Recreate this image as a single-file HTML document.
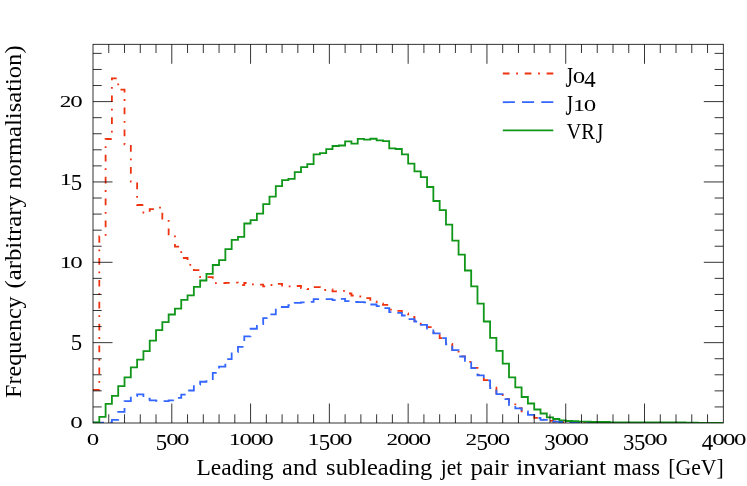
<!DOCTYPE html>
<html><head><meta charset="utf-8"><title>plot</title><style>html,body{margin:0;padding:0;background:#fff;}svg{display:block;}text{font-family:"Liberation Serif";fill:#000;}</style>
</head><body>
<svg width="747" height="486" viewBox="0 0 747 486" style="will-change:transform">
<rect x="0" y="0" width="747" height="486" fill="#ffffff"/>
<defs><clipPath id="fc"><rect x="93.00" y="44.30" width="630.30" height="378.70"/></clipPath></defs>
<g fill="none" stroke-width="1.80" stroke-linejoin="miter" stroke-linecap="butt" clip-path="url(#fc)">
<path d="M93.00 389.80 L99.30 389.80 L99.30 236.20 L105.61 236.20 L105.61 139.00 L111.91 139.00 L111.91 78.30 L118.21 78.30 L118.21 89.70 L124.52 89.70 L124.52 144.40 L130.82 144.40 L130.82 181.60 L137.12 181.60 L137.12 205.00 L143.42 205.00 L143.42 212.70 L149.73 212.70 L149.73 209.10 L156.03 209.10 L156.03 207.60 L162.33 207.60 L162.33 218.70 L168.64 218.70 L168.64 234.30 L174.94 234.30 L174.94 246.60 L181.24 246.60 L181.24 258.00 L187.55 258.00 L187.55 264.90 L193.85 264.90 L193.85 270.10 L200.15 270.10 L200.15 277.20 L206.45 277.20 L206.45 277.20 L212.76 277.20 L212.76 283.10 L219.06 283.10 L219.06 283.20 L225.36 283.20 L225.36 282.80 L231.67 282.80 L231.67 282.60 L237.97 282.60 L237.97 285.20 L244.27 285.20 L244.27 283.00 L250.57 283.00 L250.57 284.30 L256.88 284.30 L256.88 284.70 L263.18 284.70 L263.18 286.30 L269.48 286.30 L269.48 285.00 L275.79 285.00 L275.79 283.80 L282.09 283.80 L282.09 285.50 L288.39 285.50 L288.39 286.40 L294.70 286.40 L294.70 286.00 L301.00 286.00 L301.00 288.00 L307.30 288.00 L307.30 289.00 L313.61 289.00 L313.61 287.10 L319.91 287.10 L319.91 290.00 L326.21 290.00 L326.21 289.40 L332.51 289.40 L332.51 291.40 L338.82 291.40 L338.82 290.90 L345.12 290.90 L345.12 293.50 L351.42 293.50 L351.42 295.50 L357.73 295.50 L357.73 296.50 L364.03 296.50 L364.03 298.10 L370.33 298.10 L370.33 301.50 L376.63 301.50 L376.63 303.40 L382.94 303.40 L382.94 304.80 L389.24 304.80 L389.24 309.70 L395.54 309.70 L395.54 310.80 L401.85 310.80 L401.85 313.50 L408.15 313.50 L408.15 316.80 L414.45 316.80 L414.45 321.00 L420.76 321.00 L420.76 324.00 L427.06 324.00 L427.06 327.10 L433.36 327.10 L433.36 332.50 L439.67 332.50 L439.67 338.20 L445.97 338.20 L445.97 344.00 L452.27 344.00 L452.27 350.00 L458.57 350.00 L458.57 356.30 L464.88 356.30 L464.88 361.80 L471.18 361.80 L471.18 367.80 L477.48 367.80 L477.48 375.00 L483.79 375.00 L483.79 380.05 L490.09 380.05 L490.09 387.70 L496.39 387.70 L496.39 394.00 L502.69 394.00 L502.69 399.00 L509.00 399.00 L509.00 404.30 L515.30 404.30 L515.30 408.20 L521.60 408.20 L521.60 411.30 L527.91 411.30 L527.91 414.60 L534.21 414.60 L534.21 417.90 L540.51 417.90 L540.51 419.70 L546.82 419.70 L546.82 420.90 L553.12 420.90 L553.12 421.50 L559.42 421.50 L559.42 422.00 L565.73 422.00 L565.73 422.30 L572.03 422.30 L572.03 422.50 L578.33 422.50 L578.33 422.60 L584.63 422.60 L584.63 423.00 L590.94 423.00 L590.94 423.00 L597.24 423.00 L597.24 423.00 L603.54 423.00 L603.54 423.00 L609.85 423.00 L609.85 423.00 L616.15 423.00 L616.15 423.00 L622.45 423.00 L622.45 423.00 L628.75 423.00 L628.75 423.00 L635.06 423.00 L635.06 423.00 L641.36 423.00 L641.36 423.00 L647.66 423.00 L647.66 423.00 L653.97 423.00 L653.97 423.00 L660.27 423.00 L660.27 423.00 L666.57 423.00 L666.57 423.00 L672.88 423.00 L672.88 423.00 L679.18 423.00 L679.18 423.00 L685.48 423.00 L685.48 423.00 L691.78 423.00 L691.78 423.00 L698.09 423.00 L698.09 423.00 L704.39 423.00 L704.39 423.00 L710.69 423.00 L710.69 423.00 L717.00 423.00 L717.00 423.00 L723.30 423.00" stroke="#EE3311" stroke-dasharray="6.7 6.7 1.8 6.7"/>
<path d="M93.00 422.70 L99.30 422.70 L99.30 422.70 L105.61 422.70 L105.61 422.50 L111.91 422.50 L111.91 419.80 L118.21 419.80 L118.21 411.80 L124.52 411.80 L124.52 401.10 L130.82 401.10 L130.82 396.20 L137.12 396.20 L137.12 394.40 L143.42 394.40 L143.42 398.60 L149.73 398.60 L149.73 400.40 L156.03 400.40 L156.03 400.80 L162.33 400.80 L162.33 401.10 L168.64 401.10 L168.64 400.40 L174.94 400.40 L174.94 397.80 L181.24 397.80 L181.24 394.60 L187.55 394.60 L187.55 390.50 L193.85 390.50 L193.85 384.70 L200.15 384.70 L200.15 381.75 L206.45 381.75 L206.45 379.00 L212.76 379.00 L212.76 372.80 L219.06 372.80 L219.06 366.60 L225.36 366.60 L225.36 359.10 L231.67 359.10 L231.67 352.20 L237.97 352.20 L237.97 346.80 L244.27 346.80 L244.27 336.40 L250.57 336.40 L250.57 328.75 L256.88 328.75 L256.88 324.20 L263.18 324.20 L263.18 318.05 L269.48 318.05 L269.48 314.30 L275.79 314.30 L275.79 307.20 L282.09 307.20 L282.09 307.00 L288.39 307.00 L288.39 305.10 L294.70 305.10 L294.70 302.80 L301.00 302.80 L301.00 302.30 L307.30 302.30 L307.30 301.90 L313.61 301.90 L313.61 299.20 L319.91 299.20 L319.91 299.20 L326.21 299.20 L326.21 299.20 L332.51 299.20 L332.51 300.20 L338.82 300.20 L338.82 298.80 L345.12 298.80 L345.12 301.20 L351.42 301.20 L351.42 302.00 L357.73 302.00 L357.73 302.10 L364.03 302.10 L364.03 302.30 L370.33 302.30 L370.33 304.50 L376.63 304.50 L376.63 306.10 L382.94 306.10 L382.94 308.10 L389.24 308.10 L389.24 312.10 L395.54 312.10 L395.54 312.80 L401.85 312.80 L401.85 315.50 L408.15 315.50 L408.15 319.10 L414.45 319.10 L414.45 321.50 L420.76 321.50 L420.76 324.80 L427.06 324.80 L427.06 328.50 L433.36 328.50 L433.36 333.30 L439.67 333.30 L439.67 338.20 L445.97 338.20 L445.97 344.30 L452.27 344.30 L452.27 350.10 L458.57 350.10 L458.57 356.50 L464.88 356.50 L464.88 362.30 L471.18 362.30 L471.18 368.10 L477.48 368.10 L477.48 375.40 L483.79 375.40 L483.79 380.40 L490.09 380.40 L490.09 388.20 L496.39 388.20 L496.39 394.10 L502.69 394.10 L502.69 399.20 L509.00 399.20 L509.00 405.00 L515.30 405.00 L515.30 408.40 L521.60 408.40 L521.60 411.50 L527.91 411.50 L527.91 414.80 L534.21 414.80 L534.21 418.00 L540.51 418.00 L540.51 419.80 L546.82 419.80 L546.82 421.00 L553.12 421.00 L553.12 421.60 L559.42 421.60 L559.42 422.00 L565.73 422.00 L565.73 422.30 L572.03 422.30 L572.03 422.50 L578.33 422.50 L578.33 422.60 L584.63 422.60 L584.63 423.00 L590.94 423.00 L590.94 423.00 L597.24 423.00 L597.24 423.00 L603.54 423.00 L603.54 423.00 L609.85 423.00 L609.85 423.00 L616.15 423.00 L616.15 423.00 L622.45 423.00 L622.45 423.00 L628.75 423.00 L628.75 423.00 L635.06 423.00 L635.06 423.00 L641.36 423.00 L641.36 423.00 L647.66 423.00 L647.66 423.00 L653.97 423.00 L653.97 423.00 L660.27 423.00 L660.27 423.00 L666.57 423.00 L666.57 423.00 L672.88 423.00 L672.88 423.00 L679.18 423.00 L679.18 423.00 L685.48 423.00 L685.48 423.00 L691.78 423.00 L691.78 423.00 L698.09 423.00 L698.09 423.00 L704.39 423.00 L704.39 423.00 L710.69 423.00 L710.69 423.00 L717.00 423.00 L717.00 423.00 L723.30 423.00" stroke="#3366FF" stroke-dasharray="11.0 6.6"/>
<path d="M93.00 422.50 L99.30 422.50 L99.30 416.80 L105.61 416.80 L105.61 403.90 L111.91 403.90 L111.91 395.90 L118.21 395.90 L118.21 386.10 L124.52 386.10 L124.52 377.40 L130.82 377.40 L130.82 367.40 L137.12 367.40 L137.12 359.60 L143.42 359.60 L143.42 351.10 L149.73 351.10 L149.73 340.60 L156.03 340.60 L156.03 330.10 L162.33 330.10 L162.33 322.10 L168.64 322.10 L168.64 314.50 L174.94 314.50 L174.94 308.70 L181.24 308.70 L181.24 299.80 L187.55 299.80 L187.55 295.30 L193.85 295.30 L193.85 286.80 L200.15 286.80 L200.15 280.50 L206.45 280.50 L206.45 273.80 L212.76 273.80 L212.76 265.00 L219.06 265.00 L219.06 260.10 L225.36 260.10 L225.36 249.10 L231.67 249.10 L231.67 239.80 L237.97 239.80 L237.97 236.80 L244.27 236.80 L244.27 223.50 L250.57 223.50 L250.57 220.10 L256.88 220.10 L256.88 213.70 L263.18 213.70 L263.18 204.10 L269.48 204.10 L269.48 196.70 L275.79 196.70 L275.79 186.10 L282.09 186.10 L282.09 180.20 L288.39 180.20 L288.39 178.90 L294.70 178.90 L294.70 172.20 L301.00 172.20 L301.00 167.10 L307.30 167.10 L307.30 164.20 L313.61 164.20 L313.61 154.40 L319.91 154.40 L319.91 153.10 L326.21 153.10 L326.21 149.10 L332.51 149.10 L332.51 146.00 L338.82 146.00 L338.82 145.50 L345.12 145.50 L345.12 141.30 L351.42 141.30 L351.42 143.70 L357.73 143.70 L357.73 138.80 L364.03 138.80 L364.03 139.70 L370.33 139.70 L370.33 138.75 L376.63 138.75 L376.63 140.30 L382.94 140.30 L382.94 141.10 L389.24 141.10 L389.24 148.40 L395.54 148.40 L395.54 149.00 L401.85 149.00 L401.85 154.40 L408.15 154.40 L408.15 163.70 L414.45 163.70 L414.45 171.40 L420.76 171.40 L420.76 177.20 L427.06 177.20 L427.06 187.00 L433.36 187.00 L433.36 201.00 L439.67 201.00 L439.67 210.10 L445.97 210.10 L445.97 224.60 L452.27 224.60 L452.27 240.70 L458.57 240.70 L458.57 254.70 L464.88 254.70 L464.88 270.50 L471.18 270.50 L471.18 286.40 L477.48 286.40 L477.48 303.60 L483.79 303.60 L483.79 321.50 L490.09 321.50 L490.09 337.80 L496.39 337.80 L496.39 350.80 L502.69 350.80 L502.69 363.70 L509.00 363.70 L509.00 377.40 L515.30 377.40 L515.30 387.40 L521.60 387.40 L521.60 397.00 L527.91 397.00 L527.91 403.50 L534.21 403.50 L534.21 409.50 L540.51 409.50 L540.51 413.50 L546.82 413.50 L546.82 417.40 L553.12 417.40 L553.12 419.00 L559.42 419.00 L559.42 420.40 L565.73 420.40 L565.73 421.00 L572.03 421.00 L572.03 421.10 L578.33 421.10 L578.33 421.60 L584.63 421.60 L584.63 421.70 L590.94 421.70 L590.94 422.00 L597.24 422.00 L597.24 422.00 L603.54 422.00 L603.54 422.00 L609.85 422.00 L609.85 422.30 L616.15 422.30 L616.15 422.30 L622.45 422.30 L622.45 422.30 L628.75 422.30 L628.75 422.30 L635.06 422.30 L635.06 422.30 L641.36 422.30 L641.36 422.40 L647.66 422.40 L647.66 422.40 L653.97 422.40 L653.97 422.40 L660.27 422.40 L660.27 422.50 L666.57 422.50 L666.57 422.50 L672.88 422.50 L672.88 422.50 L679.18 422.50 L679.18 422.50 L685.48 422.50 L685.48 422.60 L691.78 422.60 L691.78 422.60 L698.09 422.60 L698.09 423.00 L704.39 423.00 L704.39 423.00 L710.69 423.00 L710.69 423.00 L717.00 423.00 L717.00 423.00 L723.30 423.00" stroke="#109618"/>
</g>
<path d="M108.76 423.00V414.30M108.76 44.30V53.00M124.52 423.00V414.30M124.52 44.30V53.00M140.27 423.00V414.30M140.27 44.30V53.00M156.03 423.00V414.30M156.03 44.30V53.00M171.79 423.00V403.50M171.79 44.30V63.80M187.54 423.00V414.30M187.54 44.30V53.00M203.30 423.00V414.30M203.30 44.30V53.00M219.06 423.00V414.30M219.06 44.30V53.00M234.82 423.00V414.30M234.82 44.30V53.00M250.57 423.00V403.50M250.57 44.30V63.80M266.33 423.00V414.30M266.33 44.30V53.00M282.09 423.00V414.30M282.09 44.30V53.00M297.85 423.00V414.30M297.85 44.30V53.00M313.60 423.00V414.30M313.60 44.30V53.00M329.36 423.00V403.50M329.36 44.30V63.80M345.12 423.00V414.30M345.12 44.30V53.00M360.88 423.00V414.30M360.88 44.30V53.00M376.63 423.00V414.30M376.63 44.30V53.00M392.39 423.00V414.30M392.39 44.30V53.00M408.15 423.00V403.50M408.15 44.30V63.80M423.91 423.00V414.30M423.91 44.30V53.00M439.66 423.00V414.30M439.66 44.30V53.00M455.42 423.00V414.30M455.42 44.30V53.00M471.18 423.00V414.30M471.18 44.30V53.00M486.94 423.00V403.50M486.94 44.30V63.80M502.69 423.00V414.30M502.69 44.30V53.00M518.45 423.00V414.30M518.45 44.30V53.00M534.21 423.00V414.30M534.21 44.30V53.00M549.97 423.00V414.30M549.97 44.30V53.00M565.73 423.00V403.50M565.73 44.30V63.80M581.48 423.00V414.30M581.48 44.30V53.00M597.24 423.00V414.30M597.24 44.30V53.00M613.00 423.00V414.30M613.00 44.30V53.00M628.75 423.00V414.30M628.75 44.30V53.00M644.51 423.00V403.50M644.51 44.30V63.80M660.27 423.00V414.30M660.27 44.30V53.00M676.03 423.00V414.30M676.03 44.30V53.00M691.78 423.00V414.30M691.78 44.30V53.00M707.54 423.00V414.30M707.54 44.30V53.00M93.00 406.93H101.70M723.30 406.93H714.60M93.00 390.86H101.70M723.30 390.86H714.60M93.00 374.79H101.70M723.30 374.79H714.60M93.00 358.72H101.70M723.30 358.72H714.60M93.00 342.65H112.50M723.30 342.65H703.80M93.00 326.58H101.70M723.30 326.58H714.60M93.00 310.51H101.70M723.30 310.51H714.60M93.00 294.44H101.70M723.30 294.44H714.60M93.00 278.37H101.70M723.30 278.37H714.60M93.00 262.30H112.50M723.30 262.30H703.80M93.00 246.23H101.70M723.30 246.23H714.60M93.00 230.16H101.70M723.30 230.16H714.60M93.00 214.09H101.70M723.30 214.09H714.60M93.00 198.02H101.70M723.30 198.02H714.60M93.00 181.95H112.50M723.30 181.95H703.80M93.00 165.88H101.70M723.30 165.88H714.60M93.00 149.81H101.70M723.30 149.81H714.60M93.00 133.74H101.70M723.30 133.74H714.60M93.00 117.67H101.70M723.30 117.67H714.60M93.00 101.60H112.50M723.30 101.60H703.80M93.00 85.53H101.70M723.30 85.53H714.60M93.00 69.46H101.70M723.30 69.46H714.60M93.00 53.39H101.70M723.30 53.39H714.60" fill="none" stroke="#000" stroke-width="0.80"/>
<rect x="93.00" y="44.30" width="630.30" height="378.70" fill="none" stroke="#000" stroke-width="0.80"/>
<text transform="translate(93.00 445.10) scale(1.160 0.760)" font-size="21.5" text-anchor="middle">0</text>
<text transform="translate(161.49 449.70) scale(1.060 1.090)" font-size="21.5" text-anchor="middle">5</text><text transform="translate(172.39 445.10) scale(1.160 0.760)" font-size="21.5" text-anchor="middle">0</text><text transform="translate(183.29 445.10) scale(1.160 0.760)" font-size="21.5" text-anchor="middle">0</text>
<text transform="translate(234.82 445.10) scale(1.120 0.745)" font-size="21.5" text-anchor="middle">1</text><text transform="translate(245.72 445.10) scale(1.160 0.760)" font-size="21.5" text-anchor="middle">0</text><text transform="translate(256.62 445.10) scale(1.160 0.760)" font-size="21.5" text-anchor="middle">0</text><text transform="translate(267.52 445.10) scale(1.160 0.760)" font-size="21.5" text-anchor="middle">0</text>
<text transform="translate(313.61 445.10) scale(1.120 0.745)" font-size="21.5" text-anchor="middle">1</text><text transform="translate(324.51 449.70) scale(1.060 1.090)" font-size="21.5" text-anchor="middle">5</text><text transform="translate(335.41 445.10) scale(1.160 0.760)" font-size="21.5" text-anchor="middle">0</text><text transform="translate(346.31 445.10) scale(1.160 0.760)" font-size="21.5" text-anchor="middle">0</text>
<text transform="translate(392.40 445.10) scale(1.080 0.750)" font-size="21.5" text-anchor="middle">2</text><text transform="translate(403.30 445.10) scale(1.160 0.760)" font-size="21.5" text-anchor="middle">0</text><text transform="translate(414.20 445.10) scale(1.160 0.760)" font-size="21.5" text-anchor="middle">0</text><text transform="translate(425.10 445.10) scale(1.160 0.760)" font-size="21.5" text-anchor="middle">0</text>
<text transform="translate(471.19 445.10) scale(1.080 0.750)" font-size="21.5" text-anchor="middle">2</text><text transform="translate(482.09 449.70) scale(1.060 1.090)" font-size="21.5" text-anchor="middle">5</text><text transform="translate(492.99 445.10) scale(1.160 0.760)" font-size="21.5" text-anchor="middle">0</text><text transform="translate(503.89 445.10) scale(1.160 0.760)" font-size="21.5" text-anchor="middle">0</text>
<text transform="translate(549.98 449.70) scale(1.060 1.090)" font-size="21.5" text-anchor="middle">3</text><text transform="translate(560.88 445.10) scale(1.160 0.760)" font-size="21.5" text-anchor="middle">0</text><text transform="translate(571.77 445.10) scale(1.160 0.760)" font-size="21.5" text-anchor="middle">0</text><text transform="translate(582.67 445.10) scale(1.160 0.760)" font-size="21.5" text-anchor="middle">0</text>
<text transform="translate(628.76 449.70) scale(1.060 1.090)" font-size="21.5" text-anchor="middle">3</text><text transform="translate(639.66 449.70) scale(1.060 1.090)" font-size="21.5" text-anchor="middle">5</text><text transform="translate(650.56 445.10) scale(1.160 0.760)" font-size="21.5" text-anchor="middle">0</text><text transform="translate(661.46 445.10) scale(1.160 0.760)" font-size="21.5" text-anchor="middle">0</text>
<text transform="translate(707.55 449.70) scale(1.060 1.090)" font-size="21.5" text-anchor="middle">4</text><text transform="translate(718.45 445.10) scale(1.160 0.760)" font-size="21.5" text-anchor="middle">0</text><text transform="translate(729.35 445.10) scale(1.160 0.760)" font-size="21.5" text-anchor="middle">0</text><text transform="translate(740.25 445.10) scale(1.160 0.760)" font-size="21.5" text-anchor="middle">0</text>
<text transform="translate(76.55 428.20) scale(1.160 0.760)" font-size="21.5" text-anchor="middle">0</text>
<text transform="translate(76.55 350.35) scale(1.060 1.090)" font-size="21.5" text-anchor="middle">5</text>
<text transform="translate(65.65 267.50) scale(1.120 0.745)" font-size="21.5" text-anchor="middle">1</text><text transform="translate(76.55 267.50) scale(1.160 0.760)" font-size="21.5" text-anchor="middle">0</text>
<text transform="translate(65.65 185.05) scale(1.120 0.745)" font-size="21.5" text-anchor="middle">1</text><text transform="translate(76.55 189.65) scale(1.060 1.090)" font-size="21.5" text-anchor="middle">5</text>
<text transform="translate(65.65 106.80) scale(1.080 0.750)" font-size="21.5" text-anchor="middle">2</text><text transform="translate(76.55 106.80) scale(1.160 0.760)" font-size="21.5" text-anchor="middle">0</text>
<text x="196.40" y="474.9" font-size="23" textLength="77.10" lengthAdjust="spacingAndGlyphs">Leading</text>
<text x="282.10" y="474.9" font-size="23" textLength="35.10" lengthAdjust="spacingAndGlyphs">and</text>
<text x="326.10" y="474.9" font-size="23" textLength="106.20" lengthAdjust="spacingAndGlyphs">subleading</text>
<text x="440.70" y="474.9" font-size="23" textLength="21.40" lengthAdjust="spacingAndGlyphs">jet</text>
<text x="470.50" y="474.9" font-size="23" textLength="38.20" lengthAdjust="spacingAndGlyphs">pair</text>
<text x="516.30" y="474.9" font-size="23" textLength="89.70" lengthAdjust="spacingAndGlyphs">invariant</text>
<text x="613.60" y="474.9" font-size="23" textLength="46.30" lengthAdjust="spacingAndGlyphs">mass</text>
<text x="668.30" y="474.9" font-size="23" textLength="55.50" lengthAdjust="spacingAndGlyphs">[GeV]</text>
<text transform="translate(21.3 397.90) rotate(-90)" font-size="23" textLength="101.50" lengthAdjust="spacingAndGlyphs">Frequency</text>
<text transform="translate(21.3 288.50) rotate(-90)" font-size="23" textLength="93.50" lengthAdjust="spacingAndGlyphs">(arbitrary</text>
<text transform="translate(21.3 188.80) rotate(-90)" font-size="23" textLength="143.40" lengthAdjust="spacingAndGlyphs">normalisation)</text>
<g fill="none" stroke-width="1.80">
<path d="M502.8 73.5H553.3" stroke="#EE3311" stroke-dasharray="6.7 6.7 1.8 6.7"/>
<path d="M502.8 102.2H553.3" stroke="#3366FF" stroke-dasharray="12.05 7.2"/>
<path d="M502.8 130.4H553.3" stroke="#109618"/>
</g>
<text transform="translate(565.60 86.50) scale(0.85 1.30)" font-size="22.4">J</text><text transform="translate(579.05 82.50) scale(1.160 0.760)" font-size="21.5" text-anchor="middle">0</text><text transform="translate(589.95 87.10) scale(1.060 1.090)" font-size="21.5" text-anchor="middle">4</text>
<text transform="translate(565.60 114.60) scale(0.85 1.30)" font-size="22.4">J</text><text transform="translate(579.05 110.60) scale(1.120 0.745)" font-size="21.5" text-anchor="middle">1</text><text transform="translate(589.95 110.60) scale(1.160 0.760)" font-size="21.5" text-anchor="middle">0</text>
<text x="566.4" y="138.7" font-size="22.4" textLength="28.4" lengthAdjust="spacingAndGlyphs">VR</text><text transform="translate(595.80 142.70) scale(0.85 1.30)" font-size="22.4">J</text>
</svg>
</body></html>
